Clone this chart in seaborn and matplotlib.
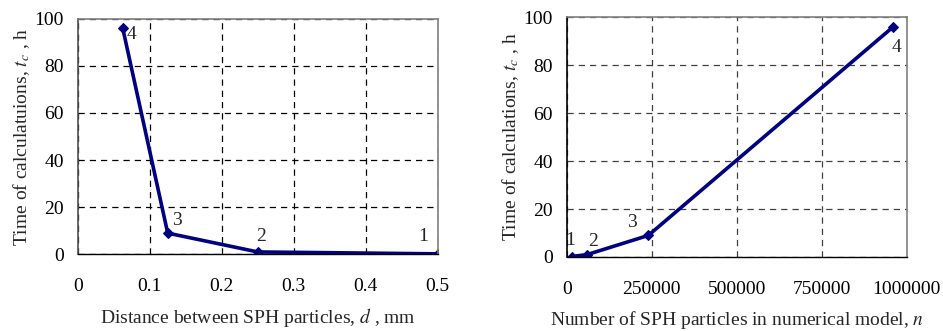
import matplotlib
matplotlib.use("Agg")
import matplotlib.pyplot as plt
import seaborn as sns
import pandas as pd

# data
distance_mm = [0.0625, 0.125, 0.25, 0.5]
particles_n = [960000, 240000, 60000, 15000]
time_h = [96, 9, 1, 0.2]
point_labels = ["4", "3", "2", "1"]

df = pd.DataFrame({"d": distance_mm, "n": particles_n, "t": time_h, "lab": point_labels})

sns.set_style("white")
plt.rcParams["font.family"] = ["Liberation Serif", "DejaVu Serif"]
plt.rcParams["mathtext.fontset"] = "stix"
plt.rcParams["font.size"] = 14

navy = "#000080"

fig = plt.figure(figsize=(9.43, 3.31), dpi=100)
ax1 = fig.add_axes([0.0824, 0.2317, 0.3818, 0.7118])
ax2 = fig.add_axes([0.601, 0.2236, 0.3605, 0.7241])


def style_axes(ax, grid_color):
    ax.set_ylim(0, 100)
    ax.set_yticks([0, 20, 40, 60, 80, 100])
    ax.grid(True, linestyle=(0, (5, 4)), color=grid_color, linewidth=0.9)
    for s in ["top", "right"]:
        ax.spines[s].set_visible(True)
        ax.spines[s].set_color("#808080")
        ax.spines[s].set_linewidth(1.2)
    ax.spines["bottom"].set_color("black")
    ax.spines["left"].set_color("#505050")
    ax.spines["bottom"].set_linewidth(1.0)
    ax.spines["left"].set_linewidth(1.2)
    ax.tick_params(axis="both", direction="out", length=5, width=1, colors="black", labelsize=14)
    ax.tick_params(axis="y", pad=5)
    ax.tick_params(axis="x", pad=12)


# left panel
sns.lineplot(data=df, x="d", y="t", ax=ax1, color=navy, linewidth=2.6, marker="D",
             markersize=5, markeredgecolor=navy, sort=False)
ax1.set_xlim(0, 0.5)
ax1.set_xticks([0, 0.1, 0.2, 0.3, 0.4, 0.5])
ax1.set_xticklabels(["0", "0.1", "0.2", "0.3", "0.4", "0.5"])
style_axes(ax1, "black")
ax1.set_xlabel("Distance between SPH particles, $\\mathit{d}$ , mm", fontsize=14, labelpad=8)
ax1.set_ylabel("Time of calculatuions, $\\mathit{t}_\\mathit{c}$ , h", fontsize=14, labelpad=2)
offs1 = [(3, -8), (3, 6), (-1, 8), (-14, 9)]
for (x, y, lab), o in zip(df[["d", "t", "lab"]].values, offs1):
    ax1.annotate(lab, (x, y), xytext=o, textcoords="offset points", fontsize=14)

# right panel
sns.lineplot(data=df, x="n", y="t", ax=ax2, color=navy, linewidth=2.6, marker="D",
             markersize=5, markeredgecolor=navy, sort=False)
ax2.set_xlim(0, 1000000)
ax2.set_xticks([0, 250000, 500000, 750000, 1000000])
ax2.set_xticklabels(["0", "250000", "500000", "750000", "1000000"])
style_axes(ax2, "#404040")
ax2.spines["left"].set_color("black")
ax2.set_xlabel("Number of SPH particles in numerical model, $\\mathit{n}$", fontsize=14, labelpad=8)
ax2.set_ylabel("Time of calculations, $\\mathit{t}_\\mathit{c}$ , h", fontsize=14, labelpad=2)
offs2 = [(-1, -18), (-15, 6), (1, 6), (-5, 8)]
for (x, y, lab), o in zip(df[["n", "t", "lab"]].values, offs2):
    ax2.annotate(lab, (x, y), xytext=o, textcoords="offset points", fontsize=14)

fig.savefig("out.png", dpi=100)
